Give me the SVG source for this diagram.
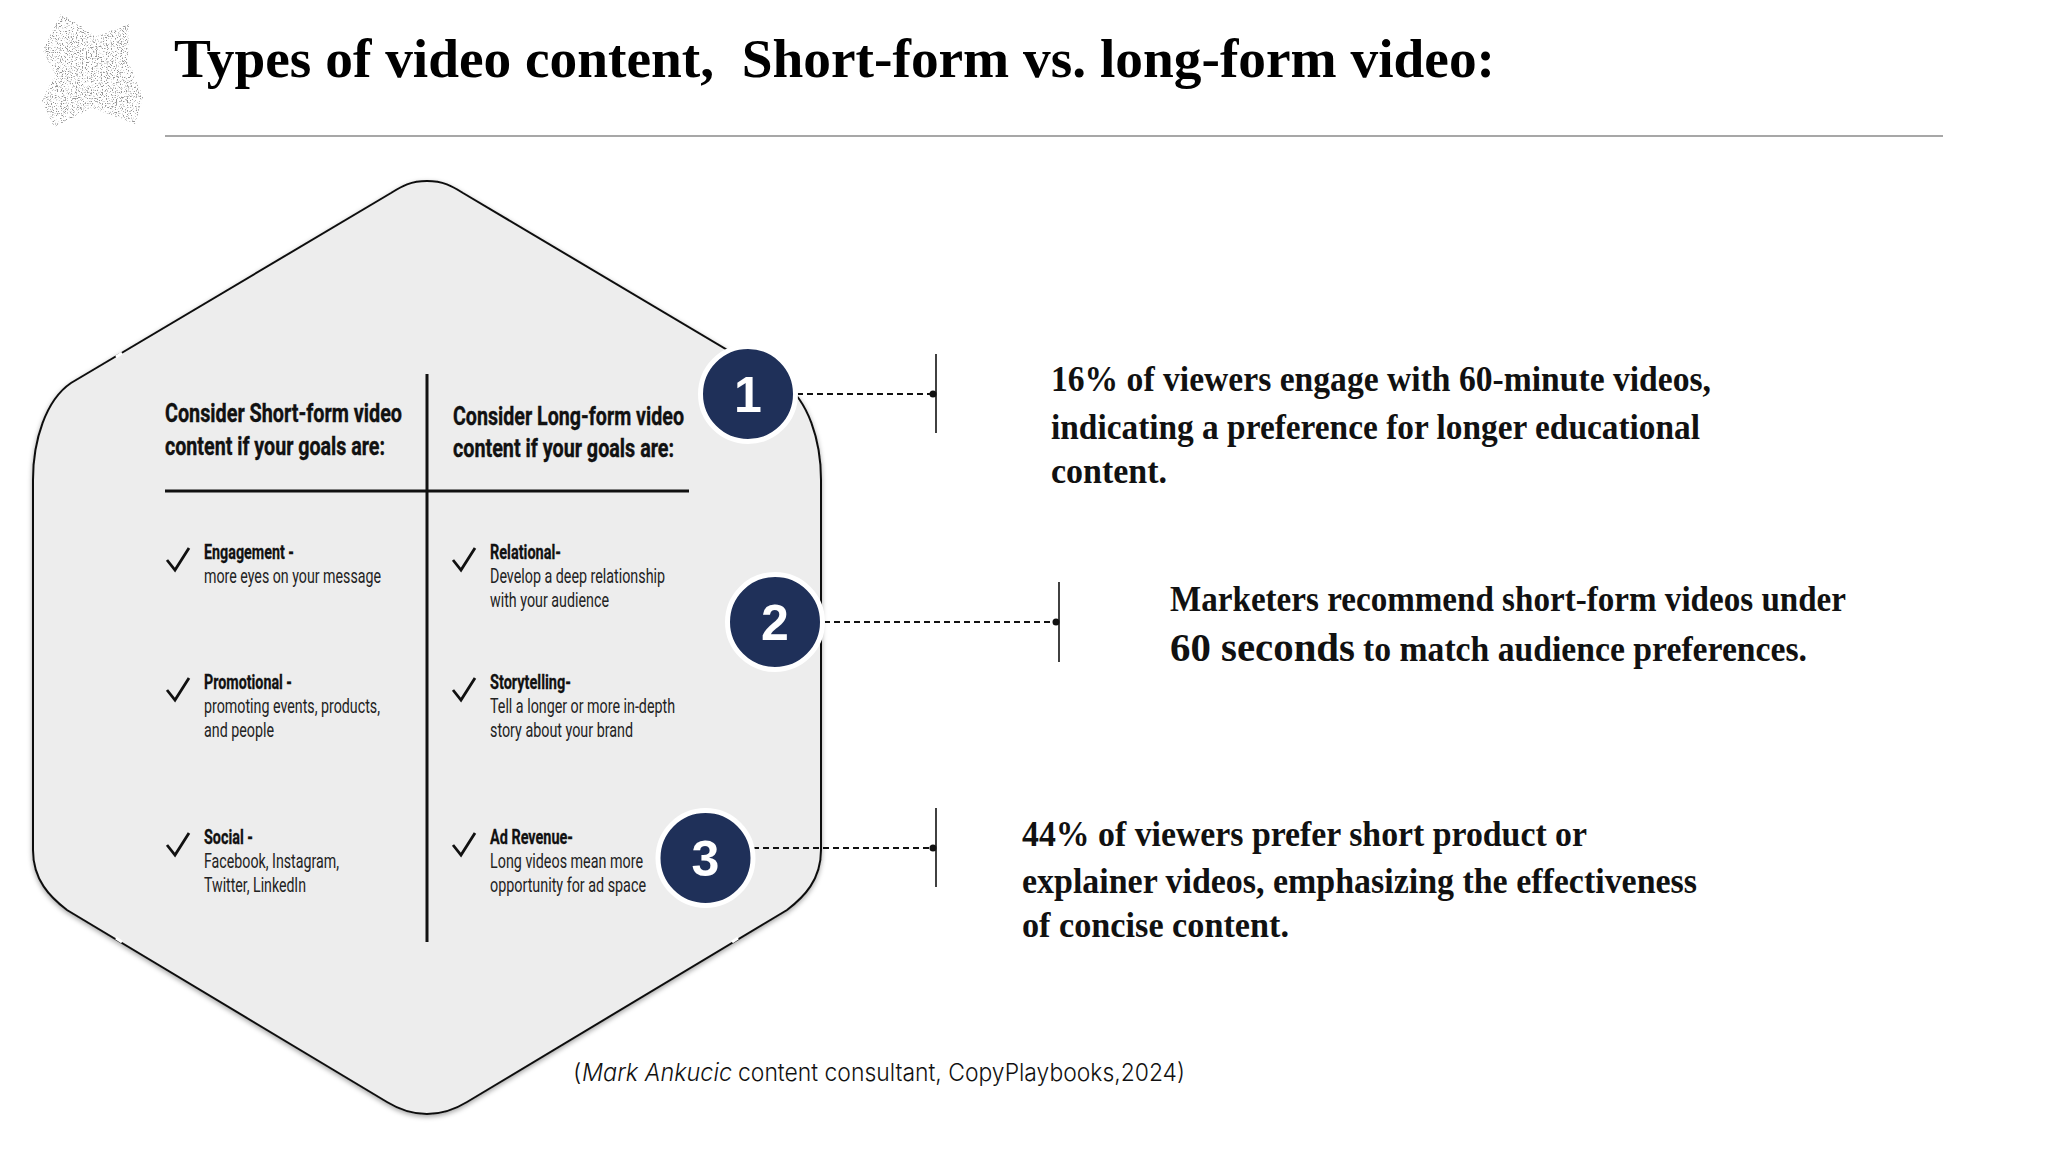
<svg xmlns="http://www.w3.org/2000/svg" width="2048" height="1152" viewBox="0 0 2048 1152">
<style>
text{white-space:pre}
.serif{font-family:"Liberation Serif",serif;font-weight:700;fill:#111;font-size:35px}
.head{font-family:Roboto,"Liberation Sans",sans-serif;font-weight:700;font-size:26px;fill:#111;stroke:#111;stroke-width:.4}
.b{font-family:Roboto,"Liberation Sans",sans-serif;font-weight:700;font-size:21px;fill:#111;stroke:#111;stroke-width:.3}
.r{font-family:Roboto,"Liberation Sans",sans-serif;font-weight:400;font-size:21px;fill:#222}
.cite{font-family:Inter,"Liberation Sans",sans-serif;font-weight:300;font-size:24px;fill:#111}
.num{font-family:"Liberation Sans",sans-serif;font-weight:700;font-size:50px;fill:#fff;text-anchor:middle}
.badge{fill:#1f3059;stroke:#fff;stroke-width:5}
.check{fill:none;stroke:#111;stroke-width:2.8}
.dash{fill:none;stroke:#111;stroke-width:2;stroke-dasharray:6 4}
.bar{stroke:#111;stroke-width:1.6}
.dot{fill:#111}
</style>
<defs>
<filter id="speck" x="0" y="0" width="1" height="1">
<feTurbulence type="fractalNoise" baseFrequency="0.8" numOctaves="2" seed="7" result="n"/>
<feColorMatrix in="n" type="matrix" values="0 0 0 0 0.3 0 0 0 0 0.3 0 0 0 0 0.3 5 5 0 0 -5.3" result="s"/>
<feComposite in="s" in2="SourceAlpha" operator="in"/>
</filter>
<filter id="soft" x="-5%" y="-5%" width="110%" height="110%">
<feDropShadow dx="0" dy="2" stdDeviation="2.5" flood-color="#000" flood-opacity=".35"/>
</filter>
</defs>
<rect width="2048" height="1152" fill="#fff"/>
<g id="logo"><polygon points="61,14 97,36 129,24 128,60 143,97 135,124 92,108 54,127 42,100 55,75 43,50" filter="url(#speck)"/></g>
<g id="title">
<text x="174" y="77" font-family="'Liberation Serif',serif" font-weight="700" font-size="54" fill="#000" textLength="1321" lengthAdjust="spacingAndGlyphs">Types of video content,  Short-form vs. long-form video:</text>
<line x1="165" y1="136" x2="1943" y2="136" stroke="#8a8a8a" stroke-width="1.6"/>
</g>
<g id="hexagon">
<path d="M427 181C443 181 452 186 463 193L783 383C808 400 821 440 821 480L821 850C821 880 804 897 787 910L467 1102C454 1110 442 1114 427 1114C412 1114 400 1110 387 1102L67 910C50 897 33 880 33 850L33 480C33 440 46 400 71 383L391 193C402 186 411 181 427 181Z" fill="#ededed" stroke="#111" stroke-width="2" filter="url(#soft)"/>
<path d="M116 357L122 353M116 938L122 942M738 938L732 942" stroke="#fff" stroke-width="3"/>
<line x1="427" y1="374" x2="427" y2="942" stroke="#111" stroke-width="3"/>
<line x1="165" y1="491" x2="689" y2="491" stroke="#111" stroke-width="3"/>
</g>
<g id="short-form">
<text class="head" x="165" y="422" textLength="237" lengthAdjust="spacingAndGlyphs">Consider Short-form video</text>
<text class="head" x="165" y="455" textLength="220" lengthAdjust="spacingAndGlyphs">content if your goals are:</text>
<path class="check" d="M167 560L175 570L189 548"/>
<text class="b" x="204" y="559" textLength="90" lengthAdjust="spacingAndGlyphs">Engagement -</text>
<text class="r" x="204" y="583" textLength="177" lengthAdjust="spacingAndGlyphs">more eyes on your message</text>
<path class="check" d="M167 690L175 700L189 678"/>
<text class="b" x="204" y="689" textLength="88" lengthAdjust="spacingAndGlyphs">Promotional -</text>
<text class="r" x="204" y="713" textLength="176" lengthAdjust="spacingAndGlyphs">promoting events, products,</text>
<text class="r" x="204" y="737" textLength="70" lengthAdjust="spacingAndGlyphs">and people</text>
<path class="check" d="M167 845L175 855L189 833"/>
<text class="b" x="204" y="844" textLength="49" lengthAdjust="spacingAndGlyphs">Social -</text>
<text class="r" x="204" y="868" textLength="135" lengthAdjust="spacingAndGlyphs">Facebook, Instagram,</text>
<text class="r" x="204" y="892" textLength="102" lengthAdjust="spacingAndGlyphs">Twitter, LinkedIn</text>
</g>
<g id="long-form">
<text class="head" transform="translate(453 425) scale(1 1.3)" style="font-size:20px;stroke-width:.3" textLength="231" lengthAdjust="spacingAndGlyphs">Consider Long-form video</text>
<text class="head" x="453" y="457" textLength="221" lengthAdjust="spacingAndGlyphs">content if your goals are:</text>
<path class="check" d="M453 560L461 570L475 548"/>
<text class="b" x="490" y="559" textLength="71" lengthAdjust="spacingAndGlyphs">Relational-</text>
<text class="r" x="490" y="583" textLength="175" lengthAdjust="spacingAndGlyphs">Develop a deep relationship</text>
<text class="r" x="490" y="607" textLength="119" lengthAdjust="spacingAndGlyphs">with your audience</text>
<path class="check" d="M453 690L461 700L475 678"/>
<text class="b" x="490" y="689" textLength="81" lengthAdjust="spacingAndGlyphs">Storytelling-</text>
<text class="r" x="490" y="713" textLength="185" lengthAdjust="spacingAndGlyphs">Tell a longer or more in-depth</text>
<text class="r" x="490" y="737" textLength="143" lengthAdjust="spacingAndGlyphs">story about your brand</text>
<path class="check" d="M453 845L461 855L475 833"/>
<text class="b" x="490" y="844" textLength="83" lengthAdjust="spacingAndGlyphs">Ad Revenue-</text>
<text class="r" transform="translate(490 868) scale(1 1.235)" style="font-size:17px" textLength="153" lengthAdjust="spacingAndGlyphs">Long videos mean more</text>
<text class="r" transform="translate(490 892) scale(1 1.235)" style="font-size:17px" textLength="156" lengthAdjust="spacingAndGlyphs">opportunity for ad space</text>
</g>
<g id="connectors">
<line class="dash" x1="797" y1="394" x2="933" y2="394"/><circle class="dot" cx="933" cy="394" r="3.5"/><line class="bar" x1="936" y1="354" x2="936" y2="433"/>
<line class="dash" x1="824" y1="622" x2="1056" y2="622"/><circle class="dot" cx="1056" cy="622" r="3.5"/><line class="bar" x1="1059" y1="582" x2="1059" y2="662"/>
<line class="dash" x1="753" y1="848" x2="933" y2="848"/><circle class="dot" cx="933" cy="848" r="3.5"/><line class="bar" x1="936" y1="808" x2="936" y2="887"/>
</g>
<g id="badge-1"><circle class="badge" cx="748" cy="394" r="47.5"/><text class="num" x="748" y="412">1</text></g>
<g id="badge-2"><circle class="badge" cx="775" cy="622" r="47.5"/><text class="num" x="775" y="640">2</text></g>
<g id="badge-3"><circle class="badge" cx="705.500" cy="858" r="47.5"/><text class="num" x="705.500" y="876">3</text></g>
<g id="callout-1">
<text class="serif" x="1051" y="391" textLength="660" lengthAdjust="spacingAndGlyphs">16% of viewers engage with 60-minute videos,</text>
<text class="serif" x="1051" y="439" textLength="649" lengthAdjust="spacingAndGlyphs">indicating a preference for longer educational</text>
<text class="serif" x="1051" y="483" textLength="116" lengthAdjust="spacingAndGlyphs">content.</text>
</g>
<g id="callout-2">
<text class="serif" x="1170" y="611" textLength="676" lengthAdjust="spacingAndGlyphs">Marketers recommend short-form videos under</text>
<text class="serif" x="1170" y="661" style="font-size:41px" textLength="185" lengthAdjust="spacingAndGlyphs">60 seconds</text>
<text class="serif" x="1363" y="661" textLength="444" lengthAdjust="spacingAndGlyphs">to match audience preferences.</text>
</g>
<g id="callout-3">
<text class="serif" x="1022" y="846" textLength="565" lengthAdjust="spacingAndGlyphs">44% of viewers prefer short product or</text>
<text class="serif" x="1022" y="893" textLength="675" lengthAdjust="spacingAndGlyphs">explainer videos, emphasizing the effectiveness</text>
<text class="serif" x="1022" y="937" textLength="267" lengthAdjust="spacingAndGlyphs">of concise content.</text>
</g>
<g id="citation">
<text class="cite" x="573" y="1081">(</text>
<text class="cite" x="582" y="1081" font-style="italic" textLength="150" lengthAdjust="spacingAndGlyphs">Mark Ankucic</text>
<text class="cite" x="738" y="1081" textLength="447" lengthAdjust="spacingAndGlyphs">content consultant, CopyPlaybooks,2024)</text>
</g>
</svg>
